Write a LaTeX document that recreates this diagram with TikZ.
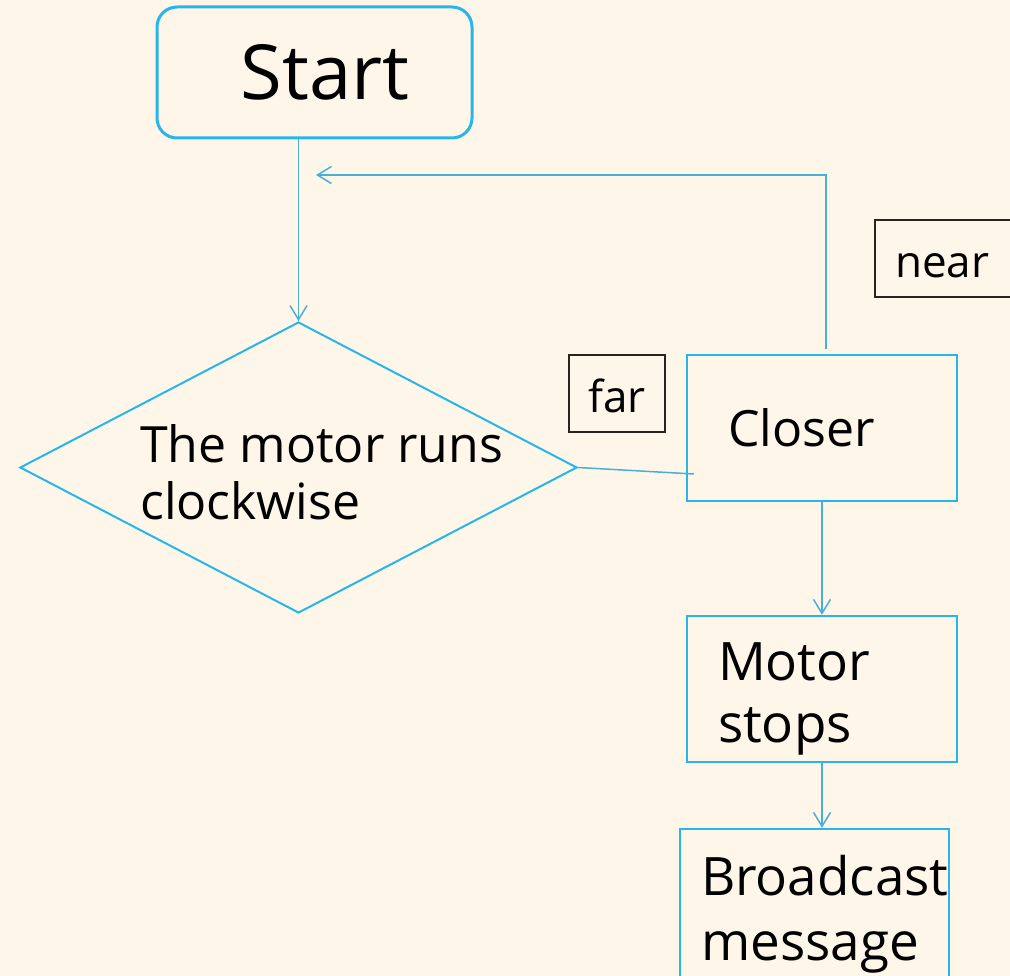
\documentclass[tikz,border=0pt]{standalone}
\usepackage{fontspec}
\setmainfont{Open Sans}
\usepackage{tikz}
\usetikzlibrary{arrows.meta,shapes.geometric}
\definecolor{bgcream}{RGB}{255,246,234}
\definecolor{flowblue}{RGB}{40,182,234}
\definecolor{linkblue}{RGB}{72,176,212}
\definecolor{tagline}{RGB}{40,36,32}

\begin{document}
\begin{tikzpicture}[x=1pt,y=-1pt,
    box/.style={draw=flowblue,line width=2.4pt,rectangle,align=left,
        font=\fontsize{53}{62}\selectfont},
    tag/.style={draw=tagline,line width=1.2pt,rectangle,
        text height=46pt,text depth=8pt,
        font=\fontsize{44}{50}\selectfont},
    link/.style={draw=linkblue,line width=1.5pt},
    flow/.style={link,-{Straight Barb[length=14pt,width=17pt,line width=1.5pt]}}
    ]

    % Background
    \fill[bgcream] (0,0) rectangle (1010,976);
    \useasboundingbox (0,0) rectangle (1010,976);

    % Start
    \node[draw=flowblue,line width=3pt,rounded corners=20pt,
        minimum width=315pt,minimum height=131pt,
        font=\fontsize{76}{80}\selectfont] (start) at (314.5,72.5) {\hspace*{21pt}Start};

    % Decision
    \node[draw=flowblue,line width=2pt,diamond,
        minimum width=557pt,minimum height=291pt,inner sep=0pt] (check) at (298.5,467.5) {};
    \node[anchor=west,inner sep=0pt,align=left,
        font=\fontsize{50}{57}\selectfont] (checktxt) at (140,472.5) {The motor runs\\clockwise};

    % Steps
    \node[box,font=\fontsize{50}{60}\selectfont,
        minimum height=146pt,text width=188pt,inner xsep=41pt] (closer) at (822,428) {Closer};
    \node[box,minimum height=146pt,text width=208pt,inner xsep=31pt] (stops) at (822,689)
        {\rule{0pt}{58pt}Motor\\stops};
    \node[box,font=\fontsize{53}{65}\selectfont,
        minimum height=150pt,text width=227pt,inner xsep=21pt] (bcast) at (814.5,904)
        {\rule{0pt}{60pt}Broadcast\\message};

    % Labels
    \node[tag,minimum width=96pt,minimum height=77pt] (far) at (617,393.5) {far};
    \node[tag,minimum height=77pt,text width=110pt,inner xsep=20pt] (near) at (950,258.5) {near};

    % Connectors
    \coordinate (back) at (316,175);
    \draw[flow] (check.north |- start.south) -- (check.north);
    \draw[flow] ([xshift=4pt,yshift=5pt]closer.north) |- (back);
    \draw[link] (check.east) -- ([xshift=8pt,yshift=-46pt]closer.west);
    \draw[flow] (closer.south) -- (stops.north);
    \draw[flow] (stops.south) -- (stops.south |- bcast.north);

\end{tikzpicture}
\end{document}
